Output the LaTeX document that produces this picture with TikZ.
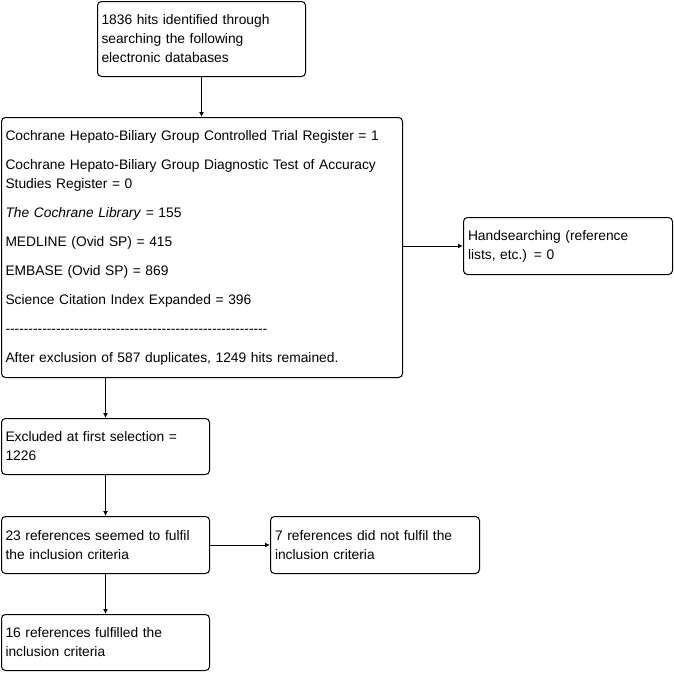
\documentclass[tikz,border=0pt]{standalone}
\usepackage{fontspec}
\setmainfont{Liberation Sans}[Ligatures=TeXOff]
\usetikzlibrary{arrows.meta}
\tikzset{
  caja/.style={draw=black,line width=1pt,rounded corners=4pt,anchor=north west,
               align=left,inner xsep=4pt,inner ysep=0pt,
               font=\fontsize{13.8}{19}\selectfont},
  cajac/.style={caja,minimum width=208pt,text width=200pt,minimum height=57pt},
  flecha/.style={-{Latex[length=5pt,width=5pt]},line width=1pt},
}
\begin{document}
\begin{tikzpicture}[x=1pt,y=1pt]
\useasboundingbox (0,0) rectangle (674,-672);

\node[caja,minimum width=208pt,text width=200pt,minimum height=75pt] (busqueda) at (97,-1)
  {1836 hits identified through\\searching the following\\electronic databases};
\node[caja,minimum width=401pt,text width=393pt,minimum height=260pt] (bases) at (1,-117)
  {Cochrane Hepato-Biliary Group Controlled Trial Register = 1\\[10pt]
   Cochrane Hepato-Biliary Group Diagnostic Test of Accuracy\\Studies Register = 0\\[10pt]
   \textit{The Cochrane Library} = 155\\[10pt]
   MEDLINE (Ovid SP) = 415\\[10pt]
   EMBASE (Ovid SP) = 869\\[10pt]
   Science Citation Index Expanded = 396\\[10pt]
   ---------------------------------------------------------\\[10pt]
   After exclusion of 587 duplicates, 1249 hits remained.};
\node[cajac,minimum width=209pt] (manual) at (463,-217)
  {Handsearching (reference\\lists, etc.) = 0};
\node[cajac,minimum height=56pt] (excluidos) at (1,-418)
  {Excluded at first selection =\\1226};
\node[cajac] (posibles) at (1,-516)
  {23 references seemed to fulfil\\the inclusion criteria};
\node[cajac,minimum width=209pt] (rechazados) at (270,-516)
  {7 references did not fulfil the\\inclusion criteria};
\node[cajac,minimum height=56pt] (incluidos) at (1,-614)
  {16 references fulfilled the\\inclusion criteria};

\draw[flecha] (busqueda.south) -- (busqueda.south |- bases.north);
\draw[flecha] (bases.south -| excluidos.north) -- (excluidos.north);
\draw[flecha] (bases.east |- manual.west) -- (manual.west);
\draw[flecha] (excluidos) -- (posibles);
\draw[flecha] (posibles) -- (rechazados);
\draw[flecha] (posibles) -- (incluidos);

\end{tikzpicture}
\end{document}
